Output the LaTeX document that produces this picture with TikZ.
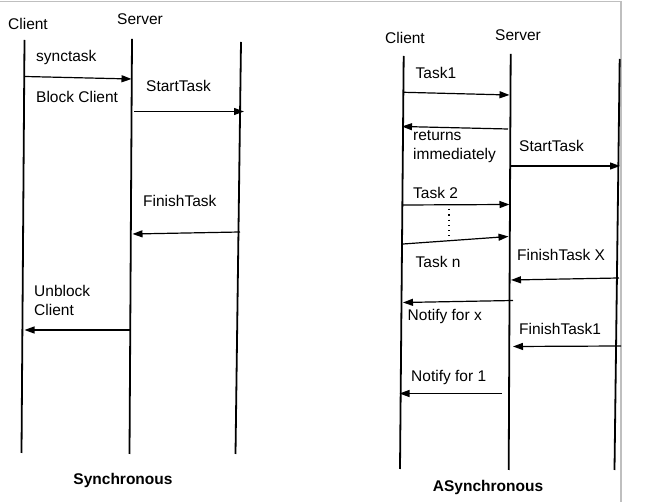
\documentclass[tikz,border=0pt]{standalone}
\usepackage{fontspec}
\setmainfont{Liberation Sans}
\usetikzlibrary{arrows.meta}
\begin{document}
\begin{tikzpicture}[x=1pt,y=-1pt,
  lifeline/.style={line width=1.8pt,black},
  msg/.style={line width=1.2pt,black,-{Triangle[length=10pt,width=7pt]}},
  lbl/.style={anchor=west,inner sep=0pt,font=\fontsize{15.5}{18}\selectfont},
  hdr/.style={anchor=center,inner sep=0pt,font=\fontsize{15.5}{18}\selectfont},
  ttl/.style={anchor=center,inner sep=0pt,font=\fontsize{15.5}{18}\selectfont\bfseries},
  frame/.style={line width=1.2pt,black!25}]
\useasboundingbox (0,0) rectangle (649,502);
% frame
\draw[frame] (0,1.5) -- (621,1.5) -- (621,502);
% ---------- Synchronous ----------
\node[hdr] (sc) at (28,24) {Client};
\node[hdr] (ss) at (140,19) {Server};
\coordinate (a1t) at (24.5,40);  \coordinate (a1b) at (21.5,453);
\coordinate (a2t) at (132,39);   \coordinate (a2b) at (129.5,454);
\coordinate (a3t) at (241,42);   \coordinate (a3b) at (235.5,454);
\draw[lifeline] (a1t) -- (a1b);
\draw[lifeline] (a2t) -- (a2b);
\draw[lifeline] (a3t) -- (a3b);
\node[lbl] (l1) at (36,57) {synctask};
\node[lbl] (l2) at (36,97) {Block Client};
\coordinate (p1) at (25,76.5); \coordinate (q1) at (131.5,79);
\draw[msg] (p1) -- (q1);
\node[lbl] (l3) at (146,86) {StartTask};
\coordinate (p2) at (134,111.5); \coordinate (q2) at (244,111.5);
\draw[msg] (p2) -- (q2);
\node[lbl] (l4) at (143,201) {FinishTask};
\coordinate (p3) at (240,232); \coordinate (q3) at (132.5,234);
\draw[msg] (p3) -- (q3);
\node[lbl] (l5) at (34,291) {Unblock};
\node[lbl] (l6) at (34,310) {Client};
\coordinate (p4) at (130,330); \coordinate (q4) at (24.5,330);
\draw[msg] (p4) -- (q4);
\node[ttl] (t1) at (123,480) {Synchronous};
% ---------- Asynchronous ----------
\node[hdr] (ac) at (405,38) {Client};
\node[hdr] (as) at (518,35) {Server};
\coordinate (b1t) at (403.7,56);  \coordinate (b1b) at (400,469);
\coordinate (b2t) at (510.7,54);  \coordinate (b2b) at (508.7,470);
\coordinate (b3t) at (619.7,59);  \coordinate (b3b) at (614.5,470);
\draw[lifeline] (b1t) -- (b1b);
\draw[lifeline] (b2t) -- (b2b);
\draw[lifeline] (b3t) -- (b3b);
\node[lbl] (m1) at (415.5,73) {Task1};
\coordinate (r1) at (404,92.3); \coordinate (s1) at (509.5,95);
\draw[msg] (r1) -- (s1);
\coordinate (r2) at (508,129); \coordinate (s2) at (402,126.5);
\draw[msg] (r2) -- (s2);
\node[lbl] (m2) at (413,136) {returns};
\node[lbl] (m3) at (413,155) {immediately};
\node[lbl] (m4) at (519,146) {StartTask};
\coordinate (r3) at (510,166); \coordinate (s3) at (620,166);
\draw[msg] (r3) -- (s3);
\node[lbl] (m5) at (413,193) {Task 2};
\coordinate (r4) at (403,205); \coordinate (s4) at (509.5,204.5);
\draw[msg] (r4) -- (s4);
\coordinate (d1) at (449,209); \coordinate (d2) at (449,236);
\draw[line width=1.3pt,dash pattern=on 1.3pt off 4pt] (d1) -- (d2);
\coordinate (r5) at (403,244); \coordinate (s5) at (508.5,236.5);
\draw[msg] (r5) -- (s5);
\node[lbl] (m6) at (415.5,261.5) {Task n};
\node[lbl] (m7) at (517,255) {FinishTask X};
\coordinate (r6) at (619,278); \coordinate (s6) at (511,280);
\draw[msg] (r6) -- (s6);
\coordinate (r7) at (513,300.5); \coordinate (s7) at (403,302.5);
\draw[msg] (r7) -- (s7);
\node[lbl] (m8) at (407.5,316.5) {Notify for x};
\node[lbl] (m9) at (519,329) {FinishTask1};
\coordinate (r8) at (621,346); \coordinate (s8) at (513,346.5);
\draw[msg] (r8) -- (s8);
\node[lbl] (m10) at (411,377) {Notify for 1};
\coordinate (r9) at (502,393.5); \coordinate (s9) at (399.5,393.5);
\draw[msg] (r9) -- (s9);
\node[ttl] (t2) at (488,487) {ASynchronous};
\end{tikzpicture}
\end{document}
